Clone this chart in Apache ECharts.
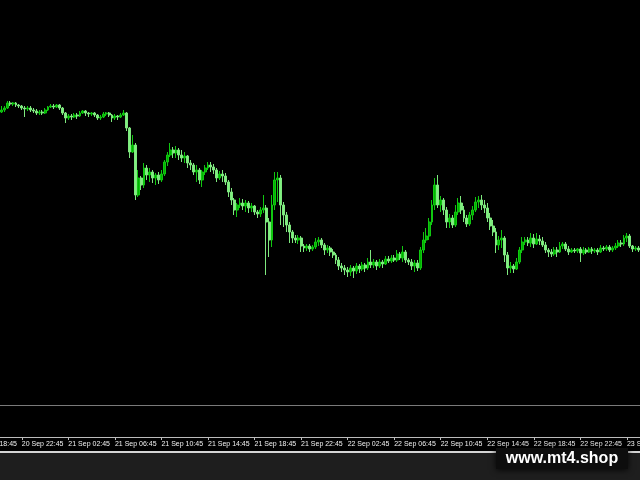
<!DOCTYPE html>
<html><head><meta charset="utf-8">
<script src="https://cdn.jsdelivr.net/npm/echarts@6/dist/echarts.min.js"></script>
<style>html,body{margin:0;padding:0;background:#000;overflow:hidden}#c{width:640px;height:480px}</style>
</head><body><div id="c"></div>
<script>
// 15-minute bars, first bar 20 Sep 21:00
const startDay = 20, startMinutes = 21 * 60, stepMinutes = 15, barCount = 220;
const tickLabels = ['20 Sep 22:45','21 Sep 02:45','21 Sep 06:45','21 Sep 10:45','21 Sep 14:45','21 Sep 18:45',
  '21 Sep 22:45','22 Sep 02:45','22 Sep 06:45','22 Sep 10:45','22 Sep 14:45','22 Sep 18:45','22 Sep 22:45','23 Sep 02:45'];
const offscreenLabel = '20 Sep 18:45';

const opens = [
388,390,392,397,396,397,395,394,392,391,
392,390,389,387,388,387,390,393,394,393,
395,392,387,382,384,383,385,384,387,389,
387,386,387,385,382,383,386,387,385,382,
384,383,385,387,372,348,355,305,322,315,
332,325,328,322,325,320,326,338,345,350,
347,350,345,342,344,337,335,328,330,320,
328,332,335,333,330,322,326,324,318,308,
300,290,295,297,294,297,292,294,288,286,
290,292,278,260,295,320,322,295,285,275,
268,262,260,262,254,252,254,251,253,258,
260,255,250,252,248,245,240,234,232,230,
228,232,229,234,231,235,232,238,235,238,
234,238,236,241,239,242,240,246,242,248,
240,238,234,237,232,250,260,264,278,295,
315,295,300,290,278,282,275,288,297,290,
282,276,285,290,298,300,295,292,282,274,
268,255,260,262,245,232,234,231,238,250,
258,260,257,262,256,261,259,255,250,248,
246,250,248,254,256,251,248,250,249,251,
247,250,248,251,249,250,248,252,251,253,
250,252,254,257,256,262,264,254,251,252];
const closes = [
390,392,397,396,397,395,394,392,391,392,
390,389,387,388,387,390,393,394,393,395,
392,387,382,384,383,385,384,387,389,387,
386,387,385,382,383,386,387,385,382,384,
383,385,387,372,348,355,305,322,315,332,
325,328,322,325,320,326,338,345,350,347,
350,345,342,344,337,335,328,330,320,328,
332,335,333,330,322,326,324,318,308,300,
290,295,297,294,297,292,294,288,286,290,
292,278,260,295,320,322,295,285,275,268,
262,260,262,254,252,254,251,253,258,260,
255,250,252,248,245,240,234,232,230,228,
232,229,234,231,235,232,238,235,238,234,
238,236,241,239,242,240,246,242,248,240,
238,234,237,232,250,260,264,278,295,315,
295,300,290,278,282,275,288,297,290,282,
276,285,290,298,300,295,292,282,274,268,
255,260,262,245,232,234,231,238,250,258,
260,257,262,256,261,259,255,250,248,246,
250,248,254,256,251,248,250,249,251,247,
250,248,251,249,250,248,252,251,253,250,
252,254,257,256,262,264,254,251,252,250];
const lows = [
387,388,391,394,394,393,392,390,383,389,
388,387,385,385,385,386,389,392,391,392,
390,385,377,380,380,382,381,383,386,384,
383,384,383,380,380,382,384,383,378,380,
380,382,384,369,342,347,300,303,310,312,
320,318,317,315,316,318,324,334,343,342,
342,340,338,337,332,330,325,318,316,313,
325,330,328,326,318,320,318,315,303,295,
285,283,292,290,288,287,288,285,282,283,
287,225,243,253,290,298,275,273,268,257,
257,257,256,248,248,249,248,249,251,254,
252,245,247,244,242,236,230,228,225,223,
224,222,226,227,229,228,230,232,232,230,
232,232,235,237,237,238,238,240,238,237,
235,230,228,229,230,247,257,260,275,290,
292,288,285,272,272,272,273,285,286,278,
273,274,280,288,292,290,287,278,270,264,
247,250,252,238,225,227,227,230,236,247,
255,254,253,252,255,255,253,247,243,243,
244,243,247,251,249,245,247,247,247,238,
245,246,247,246,247,245,247,249,249,248,
248,250,252,253,254,258,252,248,249,248];
const highs = [
394,394,399,399,398,398,396,395,394,394,
394,392,391,390,390,392,394,396,396,396,
396,393,388,386,386,387,387,389,390,390,
388,388,388,386,385,388,388,388,386,386,
385,387,390,388,373,365,357,330,324,337,
335,332,330,327,328,330,340,348,357,353,
354,352,350,348,345,340,337,335,332,330,
335,338,338,336,332,329,330,327,320,312,
302,297,302,301,300,299,297,295,290,293,
305,295,282,305,328,328,325,298,288,278,
270,265,265,264,256,256,256,255,262,263,
262,257,255,254,251,247,243,237,235,233,
235,234,237,236,238,237,242,250,241,240,
241,240,244,244,245,245,250,248,254,250,
242,241,240,240,253,268,272,282,300,322,
325,304,302,293,286,285,295,302,304,294,
285,288,294,303,304,305,300,297,287,280,
272,264,270,264,248,238,236,242,253,263,
263,263,267,266,267,265,263,258,252,251,
253,253,258,258,258,254,252,252,252,253,
253,252,253,253,252,252,255,254,255,255,
254,257,260,260,265,267,266,255,254,254];

const pad = n => (n < 10 ? '0' : '') + n;
const categories = [];
for (let i = 0; i < barCount; i++) {
  const m = startMinutes + i * stepMinutes;
  const day = startDay + Math.floor(m / 1440);
  const mm = m % 1440;
  categories.push(day + ' Sep ' + pad(Math.floor(mm / 60)) + ':' + pad(mm % 60));
}
const candleData = opens.map((o, i) => [o, closes[i], lows[i], highs[i]]);

const labelFont = "'Liberation Sans Narrow', 'Liberation Sans', sans-serif";
const showTick = (idx, val) => tickLabels.indexOf(val) >= 0;

const chart = echarts.init(document.getElementById('c'), null, {renderer: 'canvas'});
chart.setOption({
  backgroundColor: '#000000',
  animation: false,
  grid: [
    {left: 0, right: 0, top: 0, height: 405, outerBoundsMode: 'none', containLabel: false},
    {left: 0, right: 0, top: 405, height: 32, outerBoundsMode: 'none', containLabel: false}
  ],
  xAxis: [
    {type: 'category', gridIndex: 0, data: categories, boundaryGap: true,
     axisLine: {show: true, lineStyle: {color: '#7a7a7a', width: 1}},
     axisTick: {show: false}, axisLabel: {show: false}, splitLine: {show: false}},
    {type: 'category', gridIndex: 1, data: categories, boundaryGap: true,
     axisLine: {show: true, lineStyle: {color: '#bcbcbc', width: 1}},
     axisTick: {show: true, alignWithLabel: true, interval: showTick, length: 3, lineStyle: {color: '#bcbcbc'}},
     axisLabel: {show: true, interval: showTick, align: 'left', margin: 4, fontSize: 7,
                 fontFamily: labelFont, color: '#f0f0f0', hideOverlap: false},
     splitLine: {show: false}}
  ],
  yAxis: [
    {type: 'value', gridIndex: 0, min: 95, max: 500, show: false, splitLine: {show: false}},
    {type: 'value', gridIndex: 1, show: false, splitLine: {show: false}}
  ],
  series: [{
    type: 'candlestick', xAxisIndex: 0, yAxisIndex: 0, data: candleData,
    barWidth: 2.4, barMinWidth: 2.4,
    itemStyle: {color: '#00b000', color0: '#80f080', borderColor: '#10c810', borderColor0: '#7ee87e', borderWidth: 1}
  }]
});

const bw = 640 / barCount;
const x7 = chart.convertToPixel({xAxisIndex: 1}, 7);
chart.setOption({
  graphic: [
    {type: 'rect', z: 0, silent: true, shape: {x: 0, y: 451, width: 640, height: 2}, style: {fill: '#d4d4d4'}},
    {type: 'rect', z: 0, silent: true, shape: {x: 0, y: 453, width: 640, height: 27}, style: {fill: '#1e1e1e'}},
    {type: 'text', z: 5, silent: true, x: x7 - 16 * bw, y: 441,
     style: {text: offscreenLabel, fill: '#f0f0f0', font: '7px ' + labelFont, align: 'left', verticalAlign: 'top', textAlign: 'left', textVerticalAlign: 'top'}},
    {type: 'rect', z: 10, silent: true, shape: {x: 496, y: 448, width: 132, height: 21},
     style: {fill: '#0d0d0d', shadowBlur: 6, shadowColor: 'rgba(0,0,0,0.85)', shadowOffsetY: 1}},
    {type: 'text', z: 11, silent: true, x: 562, y: 458.5,
     style: {text: 'www.mt4.shop', fill: '#ffffff', font: 'bold 16px "Liberation Sans", Arial, sans-serif',
             align: 'center', verticalAlign: 'middle', textAlign: 'center', textVerticalAlign: 'middle'}}
  ]
});
</script></body></html>
